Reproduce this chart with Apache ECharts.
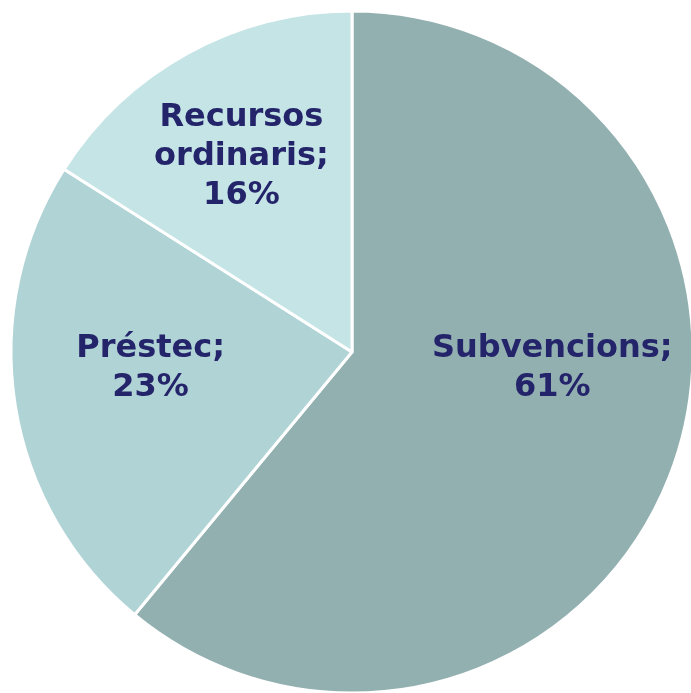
<!DOCTYPE html>
<html><head><meta charset="utf-8">
<script src="https://cdn.jsdelivr.net/npm/echarts@6/dist/echarts.min.js"></script>
<style>html,body{margin:0;padding:0;background:#fff}#c{width:691px;height:693px}</style>
</head><body><div id="c"></div>
<script>
var categories = ['Subvencions', 'Préstec', 'Recursos ordinaris'];
var values = [61, 23, 16];
var labelTexts = ['Subvencions;\n61%', 'Préstec;\n23%', 'Recursos\nordinaris;\n16%'];
var colors = ['#93B0B1', '#B0D3D5', '#C5E4E6'];
var offsets = [[37, -43], [-30, -11], [-27, -43]];

var chart = echarts.init(document.getElementById('c'));
chart.setOption({
  animation: false,
  series: [{
    type: 'pie',
    center: [352, 352],
    radius: [0, 341],
    startAngle: 90,
    clockwise: true,
    itemStyle: { borderColor: '#fff', borderWidth: 3 },
    label: {
      position: 'inside',
      fontFamily: 'DejaVu Sans',
      fontWeight: 'bold',
      fontSize: 32,
      lineHeight: 39,
      color: '#23246A',
      align: 'center'
    },
    labelLine: { show: false },
    data: categories.map(function (c, i) {
      return {
        name: c, value: values[i],
        itemStyle: { color: colors[i] },
        label: { formatter: labelTexts[i], offset: offsets[i] }
      };
    })
  }]
});
</script></body></html>
